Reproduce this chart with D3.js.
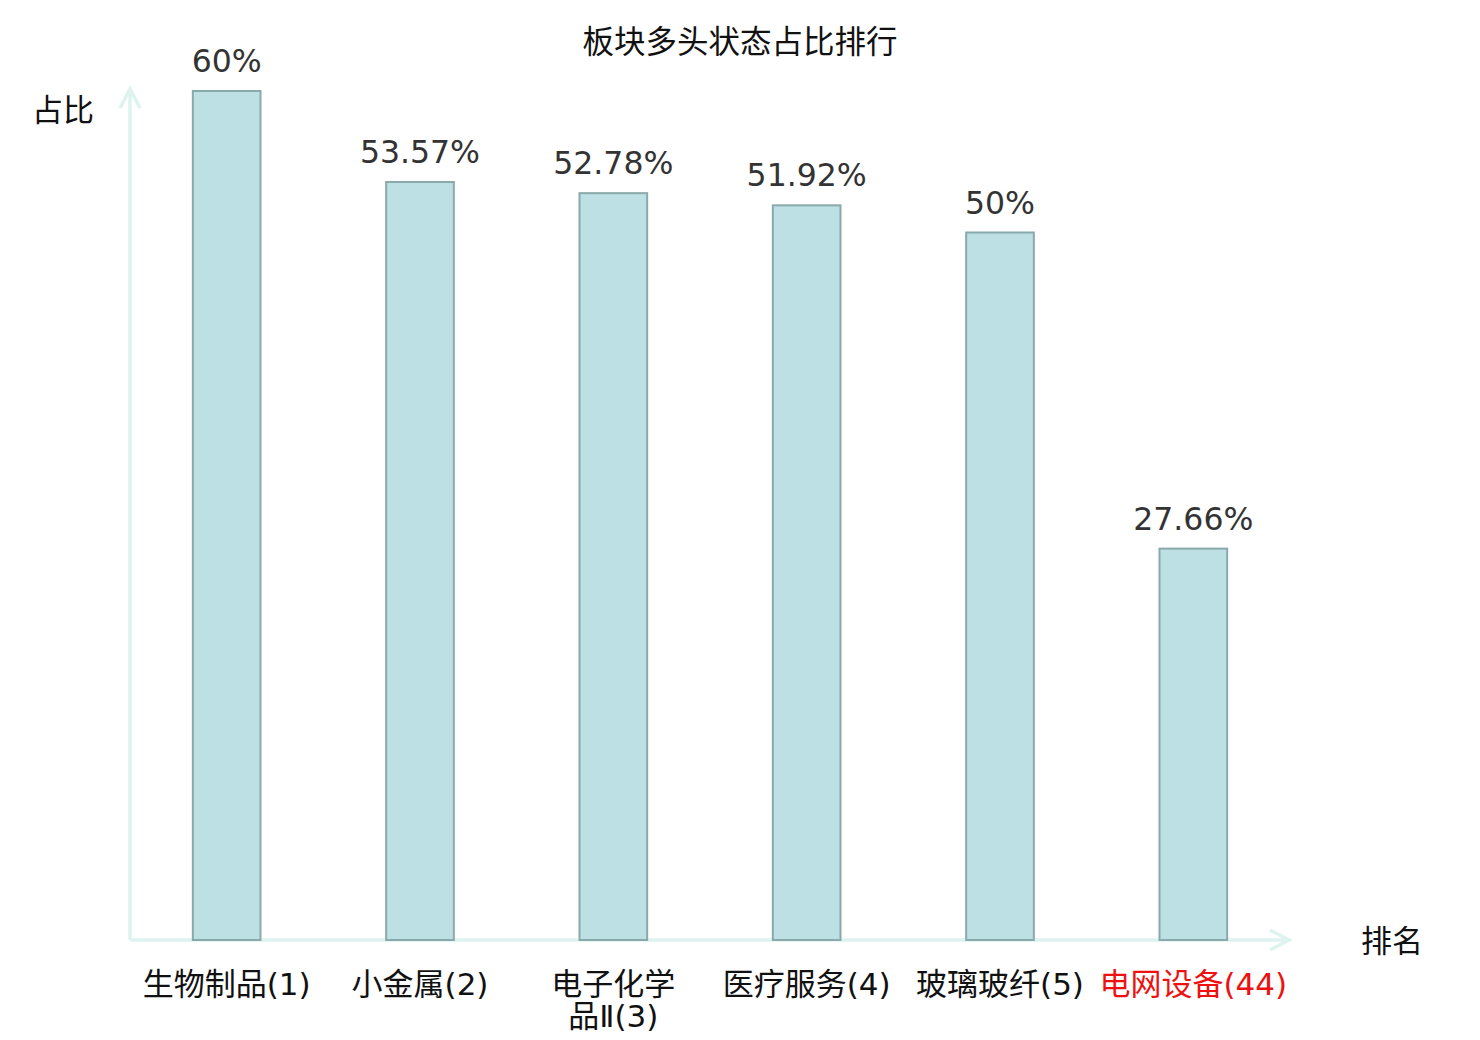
<!DOCTYPE html>
<html>
<head>
<meta charset="utf-8">
<script src="https://cdn.jsdelivr.net/npm/d3@7"></script>
<style>
  body { margin: 0; background: #fff; }
  svg { display: block; }
</style>
</head>
<body>
<div id="chart"></div>
<script>
const categories = ["生物制品(1)", "小金属(2)", "电子化学品Ⅱ(3)", "医疗服务(4)", "玻璃玻纤(5)", "电网设备(44)"];
const values = [60, 53.57, 52.78, 51.92, 50, 27.66];
const valueLabels = ["60%", "53.57%", "52.78%", "51.92%", "50%", "27.66%"];
const highlight = "电网设备(44)";

const width = 1480;
const height = 1040;
const cjk = "'Noto Sans CJK SC', 'DejaVu Sans', sans-serif";
const mixed = "'DejaVu Sans', 'Noto Sans CJK SC', sans-serif";

const svg = d3.select("#chart")
    .append("svg")
    .attr("width", width)
    .attr("height", height);

const x = d3.scaleBand()
    .domain(categories)
    .range([130, 1290])
    .paddingInner(0.65)
    .paddingOuter(0.325);

const y = d3.scaleLinear()
    .domain([0, 60])
    .range([940, 91]);

// title
svg.append("text")
    .attr("x", 740)
    .attr("y", 53)
    .attr("text-anchor", "middle")
    .style("font-family", cjk)
    .style("font-size", "31.5px")
    .attr("fill", "#111")
    .text("板块多头状态占比排行");

// axes with open arrow heads
const axisColor = "#def3ef";
svg.append("line")
    .attr("x1", 130).attr("y1", 940)
    .attr("x2", 1288).attr("y2", 940)
    .attr("stroke", axisColor).attr("stroke-width", 3.5);
svg.append("path")
    .attr("d", "M1270,930 L1289,940 L1270,950")
    .attr("fill", "none").attr("stroke", axisColor).attr("stroke-width", 3.5);

svg.append("line")
    .attr("x1", 130).attr("y1", 940)
    .attr("x2", 130).attr("y2", 90)
    .attr("stroke", axisColor).attr("stroke-width", 3.5);
svg.append("path")
    .attr("d", "M120,108 L130,89 L140,108")
    .attr("fill", "none").attr("stroke", axisColor).attr("stroke-width", 3.5);

// axis names
svg.append("text")
    .attr("x", 63).attr("y", 121)
    .attr("text-anchor", "middle")
    .style("font-family", cjk).style("font-size", "31px")
    .attr("fill", "#111")
    .text("占比");
svg.append("text")
    .attr("x", 1392).attr("y", 952)
    .attr("text-anchor", "middle")
    .style("font-family", cjk).style("font-size", "31px")
    .attr("fill", "#111")
    .text("排名");

// bars
svg.selectAll("rect.bar")
    .data(categories)
    .enter()
    .append("rect")
    .attr("class", "bar")
    .attr("x", d => x(d))
    .attr("y", (d, i) => y(values[i]))
    .attr("width", x.bandwidth())
    .attr("height", (d, i) => y(0) - y(values[i]))
    .attr("fill", "#bce0e3")
    .attr("stroke", "#8aa9ab")
    .attr("stroke-width", 2);

// value labels
svg.selectAll("text.val")
    .data(categories)
    .enter()
    .append("text")
    .attr("class", "val")
    .attr("x", d => x(d) + x.bandwidth() / 2)
    .attr("y", (d, i) => y(values[i]) - 19)
    .attr("text-anchor", "middle")
    .style("font-family", "'DejaVu Sans', sans-serif")
    .style("font-size", "31.5px")
    .attr("fill", "#333")
    .text((d, i) => valueLabels[i]);

// category labels, wrapped when wider than a band step
const step = x.step();
const cat = svg.selectAll("text.cat")
    .data(categories)
    .enter()
    .append("text")
    .attr("class", "cat")
    .attr("x", d => x(d) + x.bandwidth() / 2)
    .attr("y", 995)
    .attr("text-anchor", "middle")
    .style("font-family", mixed)
    .style("font-size", "31px")
    .attr("fill", d => d === highlight ? "#ee1111" : "#111")
    .text(d => d);

cat.each(function(d) {
    const t = d3.select(this);
    if (this.getComputedTextLength() > step) {
        const cx = t.attr("x");
        t.text(null);
        t.append("tspan").attr("x", cx).text(d.slice(0, 4));
        t.append("tspan").attr("x", cx).attr("dy", 32).text(d.slice(4));
    }
});
</script>
</body>
</html>
